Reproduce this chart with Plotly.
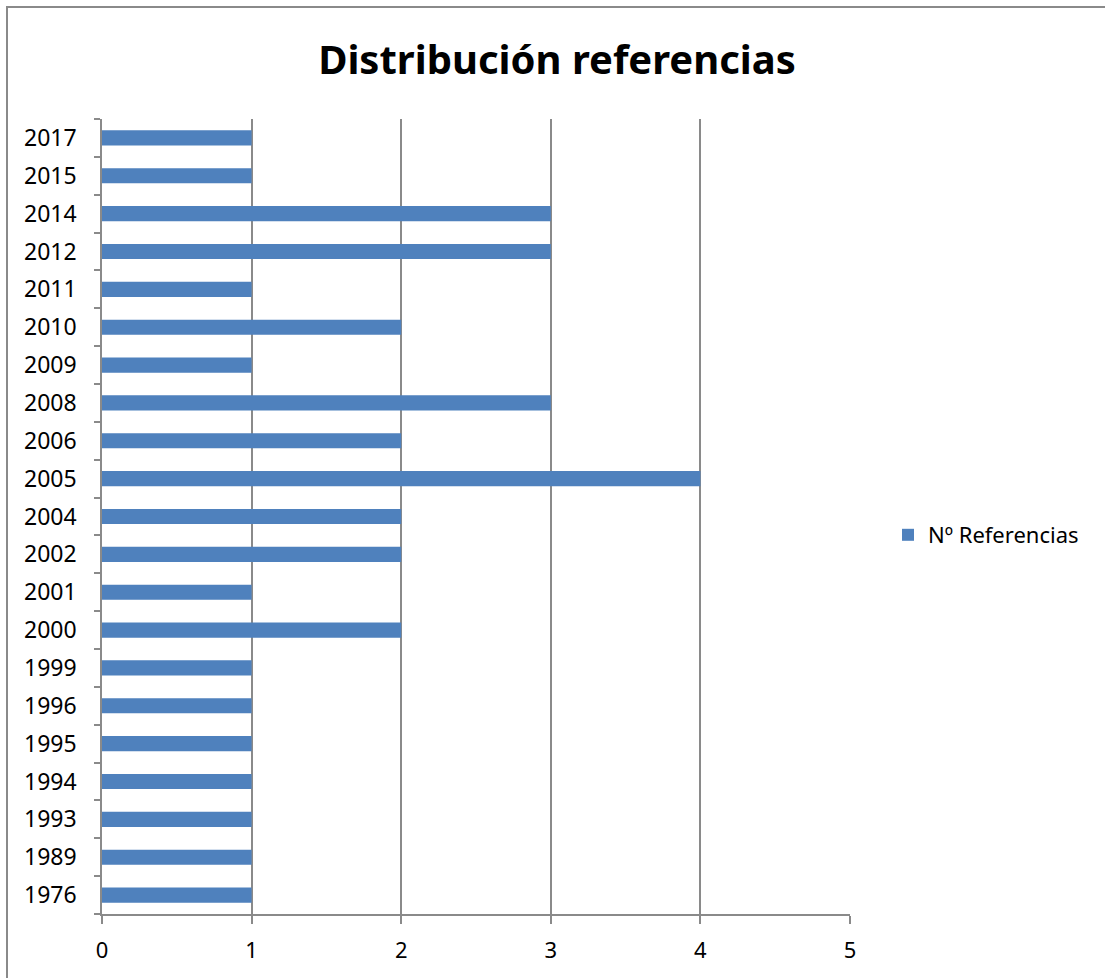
import plotly.graph_objects as go

years = ["1976", "1989", "1993", "1994", "1995", "1996", "1999", "2000", "2001", "2002",
         "2004", "2005", "2006", "2008", "2009", "2010", "2011", "2012", "2014", "2015", "2017"]
counts = [1, 1, 1, 1, 1, 1, 1, 2, 1, 2, 2, 4, 2, 3, 1, 2, 1, 3, 3, 1, 1]
x_ticks = [0, 1, 2, 3, 4, 5]
series_name = "Nº Referencias"
title_text = "Distribución referencias"

FONT = "Noto Sans"
GRID = "#8a8a8a"

fig = go.Figure()
fig.add_trace(go.Bar(
    x=counts, y=years, orientation="h", name=series_name,
    marker=dict(color="#4F81BD", line=dict(width=0)),
    showlegend=True,
))

W, H = 1105, 978
L, R, T, B = 102, 255, 119, 64
pw = W - L - R
ph = H - T - B

def px_x(p):
    return (p - L) / pw

def px_y(p):
    return (H - B - p) / ph

fig.update_layout(
    width=W, height=H,
    margin=dict(l=L, r=R, t=T, b=B, autoexpand=False),
    paper_bgcolor="white", plot_bgcolor="white",
    bargap=0.6,
    font=dict(family=FONT, color="black", size=23),
    title=dict(text="<b>" + title_text + "</b>", x=px_x(557), xref="paper", xanchor="center",
               y=1 - 60 / H, yanchor="middle", font=dict(family=FONT, size=40, color="black")),
    showlegend=True,
    legend=dict(x=px_x(888), xanchor="left", y=px_y(535), yanchor="middle",
                font=dict(family=FONT, size=22, color="black"),
                itemwidth=30, bgcolor="rgba(0,0,0,0)", traceorder="normal"),
    xaxis=dict(range=[0, 5], tickvals=x_ticks, showgrid=True, gridcolor=GRID, gridwidth=1.5,
               showline=True, linecolor=GRID, linewidth=1.5, ticks="outside", ticklen=8,
               tickcolor=GRID, tickwidth=1.5, tickfont=dict(family=FONT, size=22, color="black"),
               ticklabelstandoff=8, zeroline=False, fixedrange=True),
    yaxis=dict(type="category", categoryorder="array", categoryarray=years,
               showgrid=False, showline=True, linecolor=GRID, linewidth=1.5,
               ticks="outside", ticklen=6, tickcolor=GRID, tickwidth=1.5, tickson="boundaries",
               tickfont=dict(family=FONT, size=23, color="black"),
               ticklabelstandoff=19, zeroline=False, fixedrange=True),
)

# chart area border (Excel style), extends past the right/bottom of the picture
fig.add_shape(type="rect", xref="paper", yref="paper",
              x0=px_x(7), x1=px_x(W + 20), y0=px_y(H + 20), y1=px_y(7),
              line=dict(color=GRID, width=2), fillcolor="rgba(0,0,0,0)", layer="above")

fig.write_html("out.html")
